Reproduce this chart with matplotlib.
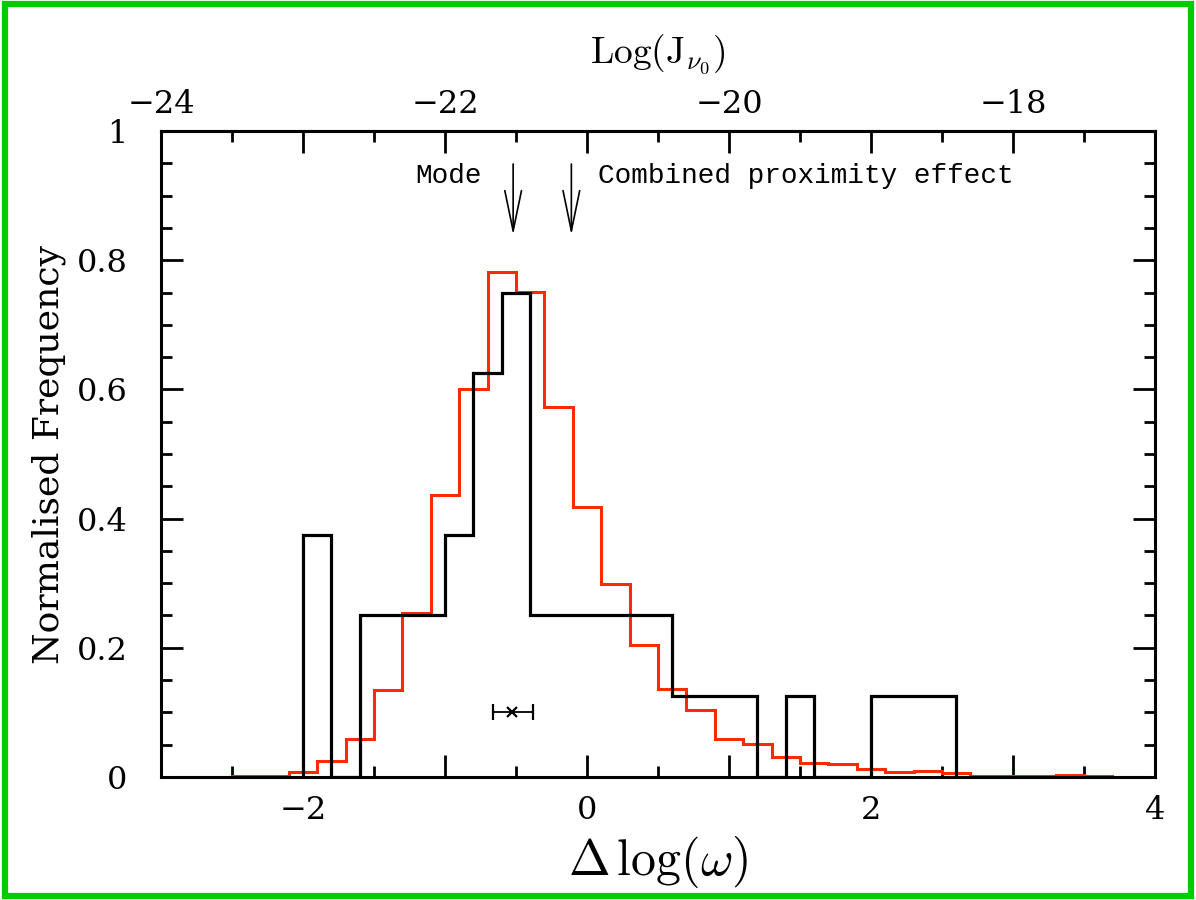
import numpy as np
import matplotlib.pyplot as plt
from matplotlib.ticker import MultipleLocator, FixedLocator, FixedFormatter
from matplotlib.patches import Rectangle

plt.rcParams['mathtext.fontset'] = 'cm'

# Black histogram (bin edges in Delta log(omega), normalised counts)
black_edges = [-2.0, -1.8, -1.6, -1.4, -1.2, -1.0, -0.8, -0.6, -0.4, -0.2, 0.0,
               0.2, 0.4, 0.6, 0.8, 1.0, 1.2, 1.4, 1.6, 1.8, 2.0, 2.2, 2.4, 2.6]
black_vals = [0.375, 0.0, 0.25, 0.25, 0.25, 0.375, 0.625, 0.75, 0.25, 0.25, 0.25,
              0.25, 0.25, 0.125, 0.125, 0.125, 0.0, 0.125, 0.0, 0.0, 0.125, 0.125, 0.125]

# Red histogram
red_edges = [-2.9, -2.7, -2.5, -2.3, -2.1, -1.9, -1.7, -1.5, -1.3, -1.1, -0.9, -0.7,
             -0.5, -0.3, -0.1, 0.1, 0.3, 0.5, 0.7, 0.9, 1.1, 1.3, 1.5, 1.7, 1.9,
             2.1, 2.3, 2.5, 2.7, 2.9, 3.1, 3.3, 3.5, 3.7, 3.9]
red_vals = [0.0, 0.0, 0.001, 0.002, 0.007, 0.025, 0.059, 0.135, 0.254, 0.437, 0.600,
            0.781, 0.751, 0.572, 0.418, 0.299, 0.204, 0.136, 0.104, 0.059, 0.051,
            0.031, 0.022, 0.020, 0.013, 0.008, 0.009, 0.006, 0.001, 0.001, 0.001,
            0.003, 0.001, 0.0]

# Markers
mode_x = -0.52
combined_x = -0.11
point_x, point_y = -0.53, 0.10
point_xerr = [[0.13], [0.15]]

bottom_labels = ['\u22122', '', '0', '', '2', '', '4']
top_labels = ['\u221224', '', '\u221222', '', '\u221220', '', '\u221218', '']
y_labels = ['0', '0.2', '0.4', '0.6', '0.8', '1']

fig = plt.figure(figsize=(11.96, 9), dpi=100)
ax = fig.add_axes([0.1346, 0.1367, 0.8311, 0.7177])

ax.stairs(red_vals, red_edges, color='#ff2a00', lw=2.2, baseline=None, zorder=2)
ax.stairs(black_vals, black_edges, color='black', lw=2.3, zorder=3)

ax.errorbar([point_x], [point_y], xerr=point_xerr, fmt='x', color='black',
            ms=7, mew=1.6, elinewidth=1.3, capsize=6, capthick=1.3, zorder=4)

for xa in (mode_x, combined_x):
    ax.annotate('', xy=(xa, 0.839), xytext=(xa, 0.949),
                arrowprops=dict(arrowstyle='->,head_length=1.45,head_width=0.3',
                                color='black', lw=1.2, mutation_scale=20,
                                shrinkA=0, shrinkB=0))

ax.text(-0.74, 0.931, 'Mode', ha='right', va='center', fontsize=20,
        family='Liberation Mono')
ax.text(0.08, 0.931, 'Combined proximity effect', ha='left', va='center', fontsize=20,
        family='Liberation Mono')

ax.set_xlim(-3, 4)
ax.set_ylim(0, 1)

ax.xaxis.set_major_locator(FixedLocator([-2, -1, 0, 1, 2, 3, 4]))
ax.xaxis.set_major_formatter(FixedFormatter(bottom_labels))
ax.xaxis.set_minor_locator(MultipleLocator(0.5))
ax.yaxis.set_major_locator(FixedLocator([0, 0.2, 0.4, 0.6, 0.8, 1.0]))
ax.yaxis.set_major_formatter(FixedFormatter(y_labels))
ax.yaxis.set_minor_locator(MultipleLocator(0.05))

ax.tick_params(which='both', direction='in', right=True, top=False, width=2,
               labelsize=23, labelfontfamily='DejaVu Serif')
ax.tick_params(which='major', length=16)
ax.tick_params(which='minor', length=8)
ax.tick_params(axis='x', pad=13)
ax.tick_params(axis='y', pad=24)
for s in ax.spines.values():
    s.set_linewidth(2.2)

top = ax.secondary_xaxis('top', functions=(lambda x: x - 21, lambda x: x + 21))
top.xaxis.set_major_locator(FixedLocator(list(range(-24, -16))))
top.xaxis.set_major_formatter(FixedFormatter(top_labels))
top.xaxis.set_minor_locator(MultipleLocator(0.5))
top.tick_params(which='both', direction='in', width=2, labelsize=23,
                labelfontfamily='DejaVu Serif', pad=8)
top.tick_params(which='major', length=16)
top.tick_params(which='minor', length=8)
top.set_xlabel(r'$\mathrm{Log(J_{\nu_0})}$', fontsize=27, labelpad=18)
top.spines['top'].set_linewidth(2.2)

ax.set_xlabel(r'$\Delta\,\log(\omega)$', fontsize=36, labelpad=6)
ax.set_ylabel('Normalised Frequency', fontsize=26, family='DejaVu Serif', labelpad=8)

fig.patches.append(Rectangle((0.0045, 0.0045), 0.991, 0.991, transform=fig.transFigure,
                             fill=False, edgecolor='#00cc00', lw=4.5))

fig.savefig('out.png', dpi=100)
